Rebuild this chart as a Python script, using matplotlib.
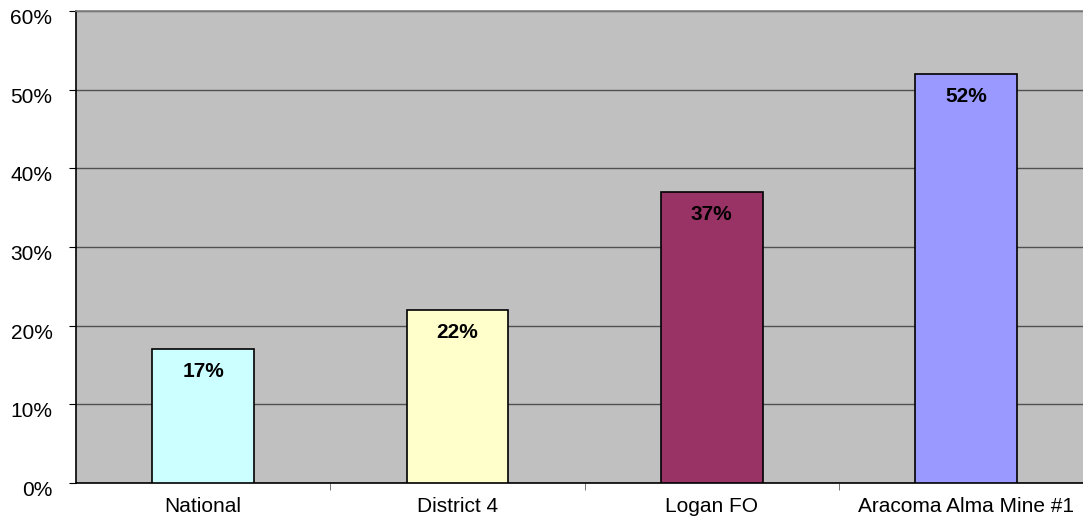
import numpy as np
import matplotlib.pyplot as plt
import matplotlib.transforms as mtransforms
from matplotlib.ticker import PercentFormatter

plt.rcParams['font.family'] = ['Liberation Sans', 'DejaVu Sans']

categories = ['National', 'District 4', 'Logan FO', 'Aracoma Alma Mine #1']
values = [17, 22, 37, 52]
colors = ['#CCFFFF', '#FFFFCC', '#993366', '#9999FF']

fig = plt.figure(figsize=(10.83, 5.18), dpi=100)
# plot area runs past the right edge of the image, as in the original
ax = fig.add_axes([0.0702, 0.0676, 0.9392, 0.9112])
ax.set_facecolor('#C0C0C0')

x = np.arange(len(categories))
bars = ax.bar(x, values, width=0.4, color=colors, edgecolor='black', linewidth=1.2, zorder=3)

for b, v in zip(bars, values):
    ax.annotate(f'{v}%', (b.get_x() + b.get_width() / 2, v), xytext=(0, -16),
                textcoords='offset points', ha='center', va='center',
                fontsize=15, fontweight='bold', zorder=4)

ax.set_xlim(-0.5, len(categories) - 0.5)
ax.set_ylim(0, 60)
ax.set_yticks(np.arange(0, 61, 10))
ax.yaxis.set_major_formatter(PercentFormatter(decimals=0))
ax.yaxis.grid(True, color='#505050', linewidth=1.0, zorder=1)

ax.set_xticks(x)
ax.set_xticklabels(categories)
ax.set_xticks(np.arange(0.5, len(categories) - 1, 1), minor=True)
ax.tick_params(axis='x', which='major', length=0, labelsize=15, pad=10)
ax.tick_params(axis='x', which='minor', length=5, direction='out', color='#606060')
ax.tick_params(axis='y', length=5, labelsize=15, pad=12)

# y labels sit a little below their ticks
shift = mtransforms.ScaledTranslation(0, -4 / 72, fig.dpi_scale_trans)
for lab in ax.get_yticklabels():
    lab.set_transform(lab.get_transform() + shift)

for side in ['left', 'bottom']:
    ax.spines[side].set_color('black')
    ax.spines[side].set_linewidth(1.2)
ax.spines['top'].set_color('#808080')
ax.spines['top'].set_linewidth(1.2)
ax.spines['right'].set_visible(False)

fig.savefig('out.png', dpi=100)
